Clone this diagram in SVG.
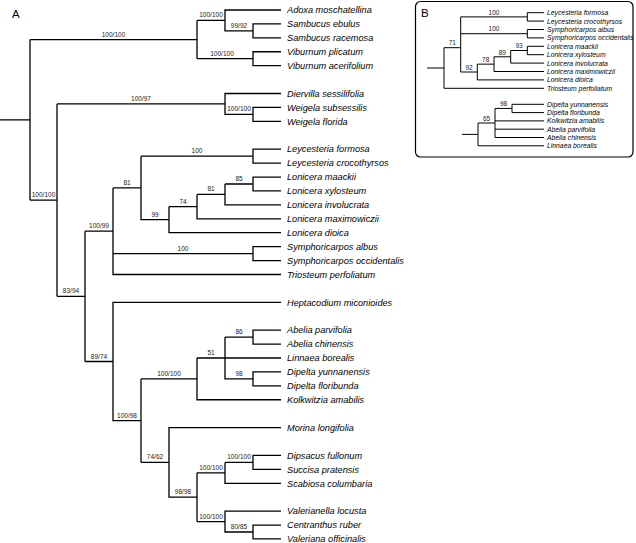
<svg xmlns="http://www.w3.org/2000/svg" width="636" height="543" viewBox="0 0 636 543">
<style>
.br{fill:none;stroke:#000;stroke-width:1.3;stroke-linejoin:miter}
.bb{fill:none;stroke:#000;stroke-width:1;stroke-linejoin:miter}
.sp{font-family:"Liberation Sans",Arial,sans-serif;font-style:italic;font-size:9.2px;fill:#000}
.spb{font-family:"Liberation Sans",Arial,sans-serif;font-style:italic;font-size:6.8px;fill:#000}
.su{font-family:"Liberation Sans",Arial,sans-serif;font-size:6.5px;fill:#222;text-anchor:middle}
.pl{font-family:"Liberation Sans",Arial,sans-serif;font-size:11.5px;fill:#000}
</style>
<rect width="636" height="543" fill="#fff"/>
<text class="pl" x="12" y="18">A</text>

<g id="connectors">
<path class="br" d="M0 119.87H30M30 39.58V200.15M30 39.58H197M197 20.44V58.72M197 20.44H225M281 10H225V30.88H253M281 23.92H253V37.84H281M197 58.72H253M281 51.76H253V65.68H281"/>
<path class="br" d="M30 200.15H57M57 103.96V296.34M57 103.96H225M281 93.52H225V114.4H253M281 107.44H253V121.36H281"/>
<path class="br" d="M57 296.34H85M85 231.2V361.48M85 231.2H113M113 187.9V274.48H281M113 187.9H141M141 156.16V219.67H169M141 156.16H253M281 149.2H253V163.12H281M169 206.62V232.72H281M169 206.62H197M197 194.44V218.8H281M197 194.44H225M225 184V204.88H281M225 184H253M281 177.04H253V190.96H281M113 253.6H253M281 246.64H253V260.56H281"/>
<path class="br" d="M85 361.48H113M281 302.32H113V420.64H141M141 378.88V462.4M141 378.88H197M197 358V399.76H281M197 358H225M225 337.12V378.88H253M225 358H281M225 337.12H253M281 330.16H253V344.08H281M281 371.92H253V385.84H281"/>
<path class="br" d="M141 462.4H169M281 427.6H169V497.2H197M197 472.84V521.56M197 472.84H225M225 462.4V483.28H281M225 462.4H253M281 455.44H253V469.36H281M197 521.56H225M281 511.12H225V532H253M281 525.04H253V538.96H281"/>
</g>

<g id="supports">
<text class="su" x="113.5" y="36.6">100/100</text>
<text class="su" x="211" y="17.4">100/100</text>
<text class="su" x="239" y="27.9">99/92</text>
<text class="su" x="222" y="55.7">100/100</text>
<text class="su" x="141" y="101">100/97</text>
<text class="su" x="239" y="111.4">100/100</text>
<text class="su" x="43.5" y="197.2">100/100</text>
<text class="su" x="71" y="293.3">83/94</text>
<text class="su" x="99" y="228.2">100/99</text>
<text class="su" x="127" y="184.9">81</text>
<text class="su" x="197" y="153.2">100</text>
<text class="su" x="155" y="216.7">99</text>
<text class="su" x="183" y="203.6">74</text>
<text class="su" x="211" y="191.4">81</text>
<text class="su" x="239" y="181">85</text>
<text class="su" x="183" y="250.6">100</text>
<text class="su" x="99" y="358.5">89/74</text>
<text class="su" x="127" y="417.6">100/98</text>
<text class="su" x="169" y="375.9">100/100</text>
<text class="su" x="211" y="355">51</text>
<text class="su" x="239" y="334.1">86</text>
<text class="su" x="239" y="375.9">98</text>
<text class="su" x="155" y="459.4">74/62</text>
<text class="su" x="183" y="494.2">98/98</text>
<text class="su" x="211" y="469.8">100/100</text>
<text class="su" x="239" y="459.4">100/100</text>
<text class="su" x="211" y="518.6">100/100</text>
<text class="su" x="239" y="529">80/85</text>
</g>

<g id="taxa">
<g id="t01"><text class="sp" x="287" y="13.2">Adoxa moschatellina</text></g>
<g id="t02"><text class="sp" x="287" y="27.1">Sambucus ebulus</text></g>
<g id="t03"><text class="sp" x="287" y="41">Sambucus racemosa</text></g>
<g id="t04"><text class="sp" x="287" y="55">Viburnum plicatum</text></g>
<g id="t05"><text class="sp" x="287" y="68.9">Viburnum acerifolium</text></g>
<g id="t06"><text class="sp" x="287" y="96.7">Diervilla sessilifolia</text></g>
<g id="t07"><text class="sp" x="287" y="110.6">Weigela subsessilis</text></g>
<g id="t08"><text class="sp" x="287" y="124.6">Weigela florida</text></g>
<g id="t09"><text class="sp" x="287" y="152.4">Leycesteria formosa</text></g>
<g id="t10"><text class="sp" x="287" y="166.3">Leycesteria crocothyrsos</text></g>
<g id="t11"><text class="sp" x="287" y="180.2">Lonicera maackii</text></g>
<g id="t12"><text class="sp" x="287" y="194.2">Lonicera xylosteum</text></g>
<g id="t13"><text class="sp" x="287" y="208.1">Lonicera involucrata</text></g>
<g id="t14"><text class="sp" x="287" y="222">Lonicera maximowiczii</text></g>
<g id="t15"><text class="sp" x="287" y="235.9">Lonicera dioica</text></g>
<g id="t16"><text class="sp" x="287" y="249.8">Symphoricarpos albus</text></g>
<g id="t17"><text class="sp" x="287" y="263.8">Symphoricarpos occidentalis</text></g>
<g id="t18"><text class="sp" x="287" y="277.7">Triosteum perfoliatum</text></g>
<g id="t19"><text class="sp" x="287" y="305.5">Heptacodium miconioides</text></g>
<g id="t20"><text class="sp" x="287" y="333.4">Abelia parvifolia</text></g>
<g id="t21"><text class="sp" x="287" y="347.3">Abelia chinensis</text></g>
<g id="t22"><text class="sp" x="287" y="361.2">Linnaea borealis</text></g>
<g id="t23"><text class="sp" x="287" y="375.1">Dipelta yunnanensis</text></g>
<g id="t24"><text class="sp" x="287" y="389">Dipelta floribunda</text></g>
<g id="t25"><text class="sp" x="287" y="403">Kolkwitzia amabilis</text></g>
<g id="t26"><text class="sp" x="287" y="430.8">Morina longifolia</text></g>
<g id="t27"><text class="sp" x="287" y="458.6">Dipsacus fullonum</text></g>
<g id="t28"><text class="sp" x="287" y="472.6">Succisa pratensis</text></g>
<g id="t29"><text class="sp" x="287" y="486.5">Scabiosa columbaria</text></g>
<g id="t30"><text class="sp" x="287" y="514.3">Valerianella locusta</text></g>
<g id="t31"><text class="sp" x="287" y="528.2">Centranthus ruber</text></g>
<g id="t32"><text class="sp" x="287" y="542.2">Valeriana officinalis</text></g>
</g>

<g id="panelB">
<rect x="415.5" y="1.5" width="217.5" height="155.5" rx="5" ry="5" fill="none" stroke="#000" stroke-width="1.2"/>
<text class="pl" x="421" y="17">B</text>
<g id="connectorsB">
<path class="bb" d="M427 68H444M444 47.7V88.3H544M444 47.7H460.7M460.7 16.9V72H477.3M460.7 16.9H527.3M544 12.7H527.3V21.1H544M460.7 33.7H527.3M544 29.5H527.3V37.9H544M477.3 64.15V79.9H544M477.3 64.15H494M494 56.8V71.5H544M494 56.8H510.7M510.7 50.5V63.1H544M510.7 50.5H527.3M544 46.3H527.3V54.7H544"/>
<path class="bb" d="M462 134.4H478M478 123V145.8H544M478 123H495M495 108.45V137.5H544M495 120.9H544M495 129.2H544M495 108.45H512M544 104.3H512V112.6H544"/>
</g>
<g id="supportsB">
<text class="su" x="494" y="14.6">100</text>
<text class="su" x="494" y="31.4">100</text>
<text class="su" x="452.3" y="45.4">71</text>
<text class="su" x="469" y="69.7">92</text>
<text class="su" x="485.7" y="61.9">78</text>
<text class="su" x="502.3" y="54.5">89</text>
<text class="su" x="519" y="48.2">93</text>
<text class="su" x="503.5" y="106.2">98</text>
<text class="su" x="486.5" y="120.7">65</text>
</g>
<g id="taxaB">
<g id="b01"><text class="spb" x="547" y="15.1">Leycesteria formosa</text></g>
<g id="b02"><text class="spb" x="547" y="23.5">Leycesteria crocothyrsos</text></g>
<g id="b03"><text class="spb" x="547" y="31.9">Symphoricarpos albus</text></g>
<g id="b04"><text class="spb" x="547" y="40.3">Symphoricarpos occidentalis</text></g>
<g id="b05"><text class="spb" x="547" y="48.7">Lonicera maackii</text></g>
<g id="b06"><text class="spb" x="547" y="57.1">Lonicera xylosteum</text></g>
<g id="b07"><text class="spb" x="547" y="65.5">Lonicera involucrata</text></g>
<g id="b08"><text class="spb" x="547" y="73.9">Lonicera maximowiczii</text></g>
<g id="b09"><text class="spb" x="547" y="82.3">Lonicera dioica</text></g>
<g id="b10"><text class="spb" x="547" y="90.7">Triosteum perfoliatum</text></g>
<g id="b11"><text class="spb" x="547" y="106.7">Dipelta yunnanensis</text></g>
<g id="b12"><text class="spb" x="547" y="115">Dipelta floribunda</text></g>
<g id="b13"><text class="spb" x="547" y="123.3">Kolkwitzia amabilis</text></g>
<g id="b14"><text class="spb" x="547" y="131.6">Abelia parvifolia</text></g>
<g id="b15"><text class="spb" x="547" y="139.9">Abelia chinensis</text></g>
<g id="b16"><text class="spb" x="547" y="148.2">Linnaea borealis</text></g>
</g>
</g>
</svg>
